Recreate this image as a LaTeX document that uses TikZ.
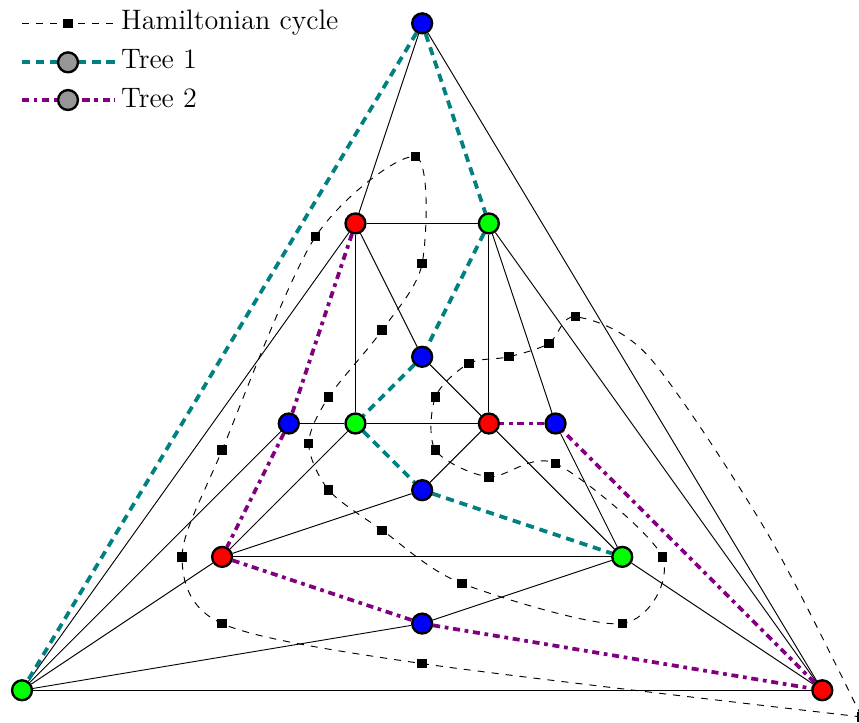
\documentclass[tikz,border=0pt]{standalone}
\usetikzlibrary{backgrounds}
\definecolor{tealc}{RGB}{0,128,128}
\definecolor{purpc}{RGB}{128,0,128}
\definecolor{vgreen}{RGB}{0,255,0}
\definecolor{vblue}{RGB}{0,0,255}
\definecolor{vred}{RGB}{255,0,0}
\definecolor{legray}{RGB}{150,150,150}
\begin{document}
\begin{tikzpicture}[x=1cm,y=1cm,
  vert/.style={circle, draw=black, line width=1pt, inner sep=0pt, minimum size=8.5pt},
  vb/.style={vert, fill=vblue}, vr/.style={vert, fill=vred}, vg/.style={vert, fill=vgreen},
  lgc/.style={vert, fill=legray},
  hmark/.style={rectangle, fill=black, inner sep=0pt, minimum size=4pt},
  edge/.style={line width=0.4pt, black},
  treeone/.style={tealc, line width=1.6pt, dash pattern=on 3.5pt off 2.5pt},
  treetwo/.style={purpc, line width=1.6pt, dash pattern=on 3pt off 2pt on 1.6pt off 2pt},
  hcyc/.style={black, line width=0.4pt, dash pattern=on 3pt off 3pt},
  lbl/.style={anchor=base west, inner sep=0pt, font=\fontsize{12}{14}\selectfont}
]
\useasboundingbox (-6.33,-0.48) rectangle (6.55,10.35);
% vertices
\node[vb] (T) at (0,10) {};
\node[vr] (A) at (-1,7) {};
\node[vg] (B) at (1,7) {};
\node[vb] (C) at (0,5) {};
\node[vb] (D) at (-2,4) {};
\node[vg] (E) at (-1,4) {};
\node[vr] (F) at (1,4) {};
\node[vb] (G) at (2,4) {};
\node[vb] (H) at (0,3) {};
\node[vr] (I) at (-3,2) {};
\node[vg] (J) at (3,2) {};
\node[vb] (K) at (0,1) {};
\node[vg] (L) at (-6,0) {};
\node[vr] (R) at (6,0) {};
% Hamiltonian cycle markers
\node[hmark] (h1) at (-0.1,8) {};
\node[hmark] (h2) at (0,6.4) {};
\node[hmark] (h3) at (-0.6,5.4) {};
\node[hmark] (h4) at (-1.4,4.4) {};
\node[hmark] (h5) at (-1.7,3.7) {};
\node[hmark] (h6) at (-1.4,3) {};
\node[hmark] (h7) at (-0.6,2.4) {};
\node[hmark] (h8) at (0.6,1.6) {};
\node[hmark] (h9) at (3,1) {};
\node[hmark] (h10) at (3.6,2) {};
\node[hmark] (h11) at (2,3.4) {};
\node[hmark] (h12) at (1,3.2) {};
\node[hmark] (h13) at (0.2,3.6) {};
\node[hmark] (h14) at (0.2,4.4) {};
\node[hmark] (h15) at (0.7,4.9) {};
\node[hmark] (h16) at (1.3,5) {};
\node[hmark] (h17) at (1.9,5.2) {};
\node[hmark] (h18) at (2.3,5.6) {};
\node[hmark] (h19) at (6.59,-0.4) {};
\node[hmark] (h20) at (0,0.4) {};
\node[hmark] (h21) at (-3,1) {};
\node[hmark] (h22) at (-3.6,2) {};
\node[hmark] (h23) at (-3,3.6) {};
\node[hmark] (h24) at (-1.6,6.8) {};
\coordinate (q1) at (3.4,5.0);
\coordinate (q2) at (5.15,2.4);
\begin{pgfonlayer}{background}
% thin edges
\draw[edge] (T) -- (A);
\draw[edge] (T) -- (R);
\draw[edge] (A) -- (B);
\draw[edge] (A) -- (E);
\draw[edge] (A) -- (C);
\draw[edge] (A) -- (L);
\draw[edge] (B) -- (F);
\draw[edge] (B) -- (G);
\draw[edge] (B) -- (R);
\draw[edge] (C) -- (F);
\draw[edge] (D) -- (E);
\draw[edge] (D) -- (L);
\draw[edge] (E) -- (F);
\draw[edge] (E) -- (I);
\draw[edge] (F) -- (H);
\draw[edge] (F) -- (J);
\draw[edge] (G) -- (J);
\draw[edge] (H) -- (I);
\draw[edge] (I) -- (J);
\draw[edge] (I) -- (L);
\draw[edge] (J) -- (K);
\draw[edge] (J) -- (R);
\draw[edge] (K) -- (L);
\draw[edge] (L) -- (R);
% Hamiltonian cycle
\draw[hcyc] plot[smooth] coordinates {(h19.center) (h20.center) (h21.center) (h22.center) (h23.center) (h24.center) (h1.center) (h2.center) (h3.center) (h4.center) (h5.center) (h6.center) (h7.center) (h8.center) (h9.center) (h10.center) (h11.center) (h12.center) (h13.center) (h14.center) (h15.center) (h16.center) (h17.center) (h18.center) (q1) (q2) (h19.center)};
% tree 1
\draw[treeone] (T) -- (L);
\draw[treeone] (T) -- (B);
\draw[treeone] (B) -- (C);
\draw[treeone] (C) -- (E);
\draw[treeone] (E) -- (H);
\draw[treeone] (H) -- (J);
% tree 2
\draw[treetwo] (A) -- (D);
\draw[treetwo] (D) -- (I);
\draw[treetwo] (I) -- (K);
\draw[treetwo] (K) -- (R);
\draw[treetwo] (R) -- (G);
\draw[treetwo] (G) -- (F);
\end{pgfonlayer}
% legend
\coordinate (la1) at (-6.0,10.0);
\coordinate (lb1) at (-4.6,10.0);
\coordinate (la2) at (-6.0,9.415);
\coordinate (lb2) at (-4.6,9.415);
\coordinate (la3) at (-6.0,8.85);
\coordinate (lb3) at (-4.6,8.85);
\draw[hcyc] (la1) -- (lb1);
\node[hmark] (lm1) at (-5.31,10.0) {};
\draw[treeone] (la2) -- (lb2);
\node[lgc] (lm2) at (-5.31,9.415) {};
\draw[treetwo] (la3) -- (lb3);
\node[lgc] (lm3) at (-5.31,8.85) {};
\node[lbl] (lt1) at (-4.52,9.91) {Hamiltonian cycle};
\node[lbl] (lt2) at (-4.52,9.33) {Tree 1};
\node[lbl] (lt3) at (-4.52,8.74) {Tree 2};
\end{tikzpicture}
\end{document}
